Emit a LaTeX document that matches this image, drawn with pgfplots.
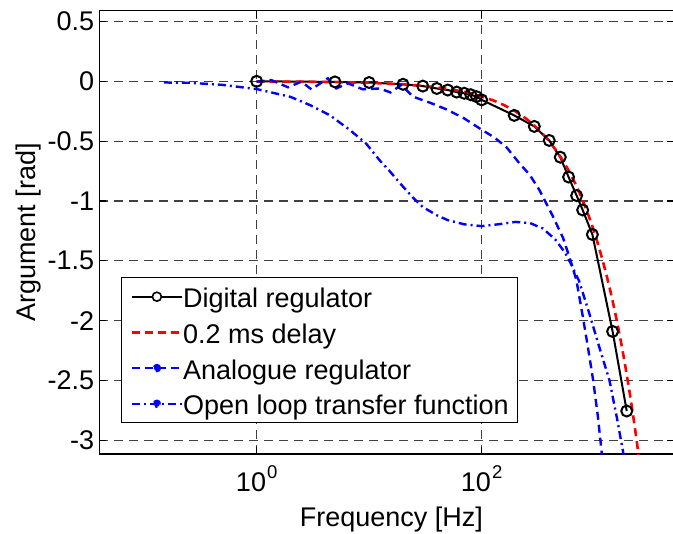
\documentclass[border=0pt]{standalone}
\usepackage{fontspec}
\setmainfont{Liberation Sans}
\usepackage{pgfplots}
\pgfplotsset{compat=1.18}

\newcommand{\figfont}{\fontsize{27}{32}\selectfont}
\newcommand{\decade}[1]{10\kern1pt\raisebox{13.7pt}{\fontsize{18.5}{18.5}\selectfont #1}}

\begin{document}
\begin{tikzpicture}
\begin{axis}[
  scale only axis,
  width=574.8pt, height=443.4pt,
  xmode=log,
  xmin=0.04, xmax=5150,
  ymin=-3.115, ymax=0.59,
  xtick={1,100},
  xticklabels={\decade{0},\decade{2}},
  minor xtick={},
  ytick={-3,-2.5,-2,-1.5,-1,-0.5,0,0.5},
  yticklabels={-3,-2.5,-2,-1.5,-1,-0.5,0,0.5},
  tick align=inside,
  major tick length=7pt,
  minor tick length=0pt,
  tick style={black, line width=1.2pt},
  axis line style={black, line width=1.6pt},
  grid=major,
  major grid style={black!75, line width=1.2pt, dash pattern=on 9pt off 6pt},
  tick label style={font=\figfont},
  xticklabel style={anchor=base, inner sep=0pt, yshift=-37.7pt},
  yticklabel style={anchor=east, inner sep=0pt, xshift=-5pt},
  xlabel={Frequency [Hz]},
  ylabel={Argument [rad]},
  label style={font=\figfont},
  xlabel style={at={(axis description cs:0.508,0)}, anchor=base, inner sep=0pt, yshift=-72pt},
  ylabel style={at={(axis description cs:-0.1119,0.5)}, rotate=0, anchor=base, inner sep=0pt},
  legend style={
    at={(axis description cs:0.03775,0.06924)}, anchor=south west,
    draw=black, line width=1.2pt, fill=white,
    inner xsep=9pt, inner ysep=8pt,
    row sep=13.7pt,
    font=\figfont,
    nodes={inner sep=0pt, text height=22pt, text depth=0pt},
    /tikz/every even column/.append style={column sep=6.7pt},
  },
  legend cell align=left,
]

% digital regulator: measured phase with circle markers
\addplot[black, line width=2pt, mark=o, mark size=5.5pt,
  mark options={solid, line width=2pt},
  legend image code/.code={
    \draw[black, solid, line width=2pt] (0pt,0pt) -- (50pt,0pt);
    \draw[black, solid, line width=1.6pt, fill=white] (25pt,0pt) circle (4.5pt);
  }] coordinates {
  (1,0) (4.97,-0.005) (10,-0.01) (20,-0.025) (30,-0.04) (40,-0.06)
  (50,-0.073) (60,-0.09) (70,-0.10) (80,-0.112) (90,-0.128) (100,-0.155)
  (195,-0.285) (294,-0.377) (399,-0.494) (500,-0.634) (593,-0.80)
  (699,-0.955) (791,-1.075) (965,-1.28) (1460,-2.09) (1950,-2.755)
};
\addlegendentry{Digital regulator}

% pure 0.2 ms time delay
\addplot[red, line width=2.6pt, dash pattern=on 8pt off 5pt,
  legend image code/.code={
    \draw[red, line width=2.4pt, dash pattern=on 8pt off 5pt] (0pt,0pt) -- (50pt,0pt);
  }] coordinates {
  (1,-0.00126) (2,-0.00251) (5,-0.00628) (10,-0.01257) (20,-0.02513)
  (30,-0.03770) (50,-0.06283) (70,-0.08796) (100,-0.12566) (130,-0.16336)
  (160,-0.20106) (200,-0.25133) (250,-0.31416) (300,-0.37699) (350,-0.43982)
  (400,-0.50265) (450,-0.56549) (500,-0.62832) (550,-0.69115) (600,-0.75398)
  (650,-0.81681) (700,-0.87965) (750,-0.94248) (800,-1.00531) (850,-1.06814)
  (900,-1.13097) (950,-1.19381) (1000,-1.25664) (1100,-1.38230) (1200,-1.50796)
  (1300,-1.63363) (1400,-1.75929) (1500,-1.88496) (1600,-2.01062) (1700,-2.13628)
  (1800,-2.26195) (1900,-2.38761) (2000,-2.51327) (2100,-2.63894) (2200,-2.76460)
  (2300,-2.89027) (2400,-3.01593) (2500,-3.14159) (2600,-3.26726)
};
\addlegendentry{0.2 ms delay}

% analogue regulator
\addplot[blue, line width=2.4pt, dash pattern=on 8pt off 5pt,
  legend image code/.code={
    \draw[blue, line width=2.2pt, dash pattern=on 8pt off 5pt] (0pt,0pt) -- (50pt,0pt);
    \fill[blue] (25pt,0pt) circle (3pt);
  }] coordinates {
  (1,-0.003) (1.35,0.01) (1.9,-0.05) (2.5,-0.003) (3.07,-0.067) (4.3,0.025)
  (5.1,-0.059) (6.5,-0.017) (8.8,-0.067) (12.4,-0.06) (15.5,-0.093)
  (19.3,-0.03) (24.5,-0.128) (35,-0.18) (48.5,-0.234) (70,-0.31)
  (95.8,-0.393) (130,-0.47) (166,-0.55) (217,-0.686) (267,-0.78)
  (327,-0.91) (431,-1.13) (530,-1.31) (609,-1.48) (695,-1.66)
  (795,-1.97) (880,-2.22) (981,-2.5) (1080,-2.8) (1170,-3.11) (1185,-3.15)
};
\addlegendentry{Analogue regulator}

% open loop transfer function
\addplot[blue, line width=2.4pt, dash pattern=on 8pt off 4pt on 2pt off 4pt,
  legend image code/.code={
    \draw[blue, line width=2.2pt, dash pattern=on 8pt off 4pt on 2pt off 4pt] (0pt,0pt) -- (50pt,0pt);
    \fill[blue] (25pt,0pt) circle (3pt);
  }] coordinates {
  (0.15,-0.01) (0.25,-0.012) (0.5,-0.03) (1,-0.065) (2,-0.13) (3,-0.2)
  (4.5,-0.285) (6.7,-0.405) (9.4,-0.52) (12.4,-0.66) (15.2,-0.75)
  (20,-0.88) (25,-0.98) (30,-1.05) (40,-1.12) (50,-1.16) (70,-1.195)
  (100,-1.21) (140,-1.195) (200,-1.175) (270,-1.185) (350,-1.23)
  (450,-1.32) (550,-1.43) (626,-1.53) (736,-1.67) (906,-1.94)
  (1111,-2.22) (1370,-2.5) (1600,-2.82) (1853,-3.15)
};
\addlegendentry{Open loop transfer function}

\end{axis}
\pgfresetboundingbox
\path[use as bounding box] (-99.4pt,-79pt) rectangle (573.6pt,454.1pt);
\end{tikzpicture}
\end{document}
